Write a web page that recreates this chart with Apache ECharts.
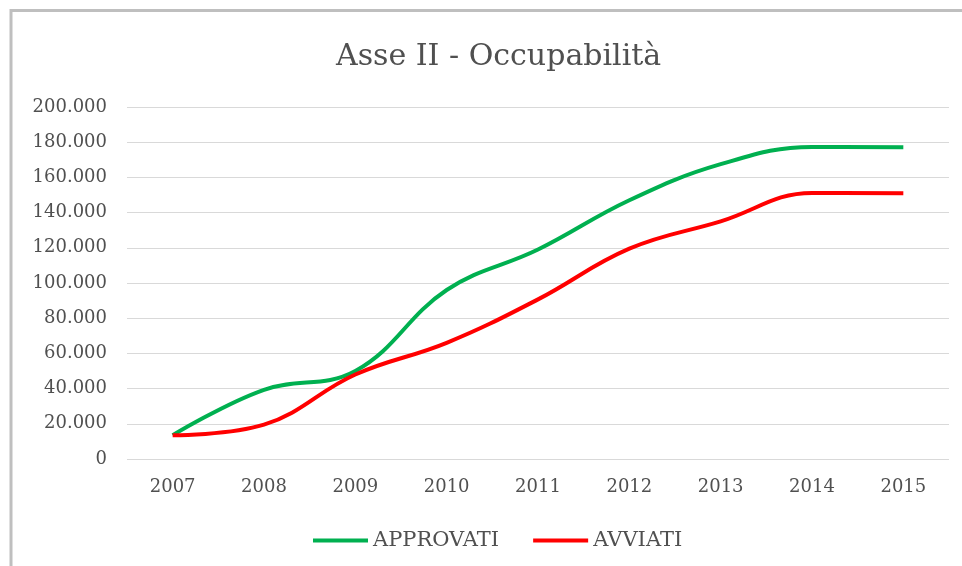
<!DOCTYPE html>
<html>
<head>
<meta charset="utf-8">
<script src="https://cdn.jsdelivr.net/npm/echarts@6/dist/echarts.min.js"></script>
<style>
html,body{margin:0;padding:0;background:#fff;}
#chart{width:962px;height:566px;}
</style>
</head>
<body>
<div id="chart"></div>
<script>
var titleText = 'Asse II - Occupabilità';
var years = ['2007','2008','2009','2010','2011','2012','2013','2014','2015'];
var approvati = [13500, 39300, 50000, 96000, 119000, 147000, 167500, 177300, 177100];
var avviati = [13500, 19500, 48000, 66000, 90700, 119500, 135000, 151200, 151000];
var seriesNames = ['APPROVATI', 'AVVIATI'];

function fmt(v){
  return String(v).replace(/\B(?=(\d{3})+(?!\d))/g, '.');
}

var font = 'DejaVu Serif';
var chart = echarts.init(document.getElementById('chart'));
chart.setOption({
  backgroundColor: '#ffffff',
  animation: false,
  title: {
    text: titleText,
    left: 331,
    top: 37,
    textStyle: {fontFamily: font, fontSize: 30, fontWeight: 'normal', color: '#505050'}
  },
  graphic: [{
    type: 'polyline',
    shape: {points: [[11, 566], [11, 10.5], [962, 10.5]]},
    style: {stroke: '#bfbfbf', lineWidth: 3, fill: null}
  }],
  legend: {
    left: 308,
    top: 525,
    itemWidth: 55,
    itemHeight: 4,
    itemGap: 34,
    icon: 'rect',
    textStyle: {fontFamily: font, fontSize: 21, color: '#505050'},
    data: seriesNames
  },
  grid: {left: 127, right: 13, top: 107, bottom: 107, containLabel: false},
  xAxis: {
    type: 'category',
    data: years,
    boundaryGap: true,
    axisLine: {show: false},
    axisTick: {show: false},
    axisLabel: {fontFamily: font, fontSize: 18, color: '#505050', margin: 19}
  },
  yAxis: {
    type: 'value',
    min: 0, max: 200000, interval: 20000,
    axisLine: {show: false},
    axisTick: {show: false},
    splitLine: {lineStyle: {color: '#d9d9d9', width: 1}},
    axisLabel: {fontFamily: font, fontSize: 18, color: '#505050', margin: 20, formatter: fmt}
  },
  series: [{
    name: seriesNames[0], type: 'line', data: approvati, smooth: 0.4,
    showSymbol: false, lineStyle: {color: '#00b050', width: 4}, itemStyle: {color: '#00b050'}
  }, {
    name: seriesNames[1], type: 'line', data: avviati, smooth: 0.4,
    showSymbol: false, lineStyle: {color: '#ff0000', width: 4}, itemStyle: {color: '#ff0000'}
  }]
});
</script>
</body>
</html>
